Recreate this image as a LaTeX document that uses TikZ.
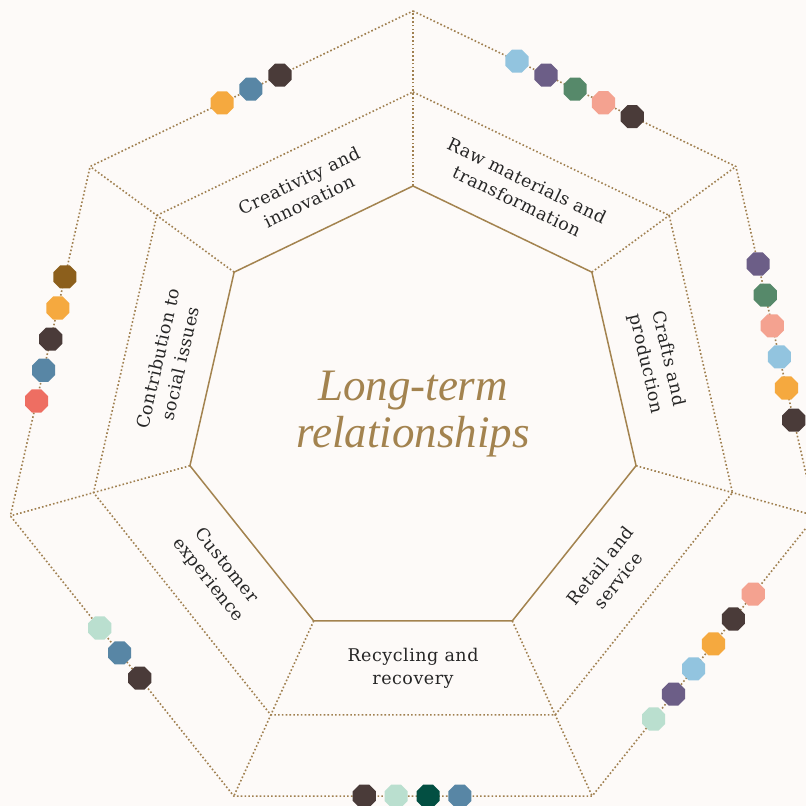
\documentclass[tikz,border=0pt]{standalone}
\usepackage{fontspec}
\usetikzlibrary{calc,shapes.geometric}
\newfontfamily\labfont[LetterSpace=3]{DejaVu Serif}
\newfontfamily\ctrfont{Liberation Serif}
\definecolor{bg}{HTML}{FDFAF8}
\definecolor{gold}{HTML}{A3834F}
\definecolor{dotc}{HTML}{A08050}
\definecolor{ink}{HTML}{262626}
\definecolor{cOr}{HTML}{F5A93F}
\definecolor{cBl}{HTML}{5886A5}
\definecolor{cDk}{HTML}{4A3B39}
\definecolor{cMi}{HTML}{BADFCF}
\definecolor{cTe}{HTML}{034F42}
\definecolor{cLb}{HTML}{92C4DF}
\definecolor{cPu}{HTML}{6C5E87}
\definecolor{cGr}{HTML}{56896A}
\definecolor{cPk}{HTML}{F4A290}
\definecolor{cBr}{HTML}{8C5F1C}
\definecolor{cRe}{HTML}{EE6E62}
\tikzset{
  dotl/.style={draw=dotc, line width=1.6pt, dash pattern=on 1.6pt off 2.2pt},
  solidl/.style={draw=gold, line width=1.5pt, line join=miter},
  dotn/.style={regular polygon, regular polygon sides=8, minimum size=25pt, inner sep=0pt, draw=none},
  lab/.style={font=\labfont\fontsize{17.5}{23}\selectfont, text=ink, align=center, inner sep=0pt},
  ctr/.style={font=\ctrfont\itshape\fontsize{45}{47}\selectfont, text=gold, align=center, inner sep=0pt}
}
\begin{document}
\begin{tikzpicture}[x=1pt,y=-1pt]
\fill[bg] (0,0) rectangle (806,806);
\useasboundingbox (0,0) rectangle (806,806);
\clip (0,0) rectangle (806,806);
\foreach \k in {0,...,6}{
  \coordinate (i\k) at ($(413,414.8)+({-90+\k*360/7}:228.8)$);
  \coordinate (m\k) at ($(413,419.7)+({-90+\k*360/7}:327.7)$);
  \coordinate (o\k) at ($(413,424)+({-90+\k*360/7}:413)$);
}
% radial dotted lines
\foreach \k in {0,...,6}{
  \draw[dotl] (i\k) -- (m\k) -- (o\k);
}
% dotted heptagons
\draw[dotl] (m0) -- (m1) -- (m2) -- (m3) -- (m4) -- (m5) -- (m6) -- cycle;
\draw[dotl] (o0) -- (o1) -- (o2) -- (o3) -- (o4) -- (o5) -- (o6) -- cycle;
% inner solid heptagon
\draw[solidl] (i0) -- (i1) -- (i2) -- (i3) -- (i4) -- (i5) -- (i6) -- cycle;

% centre title
\node[ctr] (title) at (413,414) {Long-term\\relationships};

% sector labels
\node[lab, rotate=25.71] (lcre) at (304,191) {Creativity and\\innovation};
\node[lab, rotate=-25.71] (lraw) at (522,191) {Raw materials and\\transformation};
\node[lab, rotate=-77.14] (lcra) at (657,361) {Crafts and\\production};
\node[lab, rotate=51.43] (lret) at (609,573) {Retail and\\service};
\node[lab] (lrec) at (413,668) {Recycling and\\recovery};
\node[lab, rotate=-51.43] (lcus) at (217,573) {Customer\\experience};
\node[lab, rotate=77.14] (lcon) at (169,361) {Contribution to\\social issues};

% coloured dots on the outer edges
\path (o6) -- (o0)
  node[dotn, fill=cOr, pos=0.409] (a1) {}
  node[dotn, fill=cBl, pos=0.498] (a2) {}
  node[dotn, fill=cDk, pos=0.588] (a3) {};
\path (o0) -- (o1)
  node[dotn, fill=cLb, pos=0.322] (b1) {}
  node[dotn, fill=cPu, pos=0.412] (b2) {}
  node[dotn, fill=cGr, pos=0.502] (b3) {}
  node[dotn, fill=cPk, pos=0.590] (b4) {}
  node[dotn, fill=cDk, pos=0.679] (b5) {};
\path (o1) -- (o2)
  node[dotn, fill=cPu, pos=0.279] (c1) {}
  node[dotn, fill=cGr, pos=0.368] (c2) {}
  node[dotn, fill=cPk, pos=0.456] (c3) {}
  node[dotn, fill=cLb, pos=0.545] (c4) {}
  node[dotn, fill=cOr, pos=0.634] (c5) {}
  node[dotn, fill=cDk, pos=0.726] (c6) {};
\path (o2) -- (o3)
  node[dotn, fill=cPk, pos=0.279] (e1) {}
  node[dotn, fill=cDk, pos=0.368] (e2) {}
  node[dotn, fill=cOr, pos=0.457] (e3) {}
  node[dotn, fill=cLb, pos=0.546] (e4) {}
  node[dotn, fill=cPu, pos=0.636] (e5) {}
  node[dotn, fill=cMi, pos=0.725] (e6) {};
\path (o3) -- (o4)
  node[dotn, fill=cBl, pos=0.369] (f1) {}
  node[dotn, fill=cTe, pos=0.458] (f2) {}
  node[dotn, fill=cMi, pos=0.547] (f3) {}
  node[dotn, fill=cDk, pos=0.636] (f4) {};
\path (o4) -- (o5)
  node[dotn, fill=cDk, pos=0.421] (g1) {}
  node[dotn, fill=cBl, pos=0.511] (g2) {}
  node[dotn, fill=cMi, pos=0.600] (g3) {};
\path (o5) -- (o6)
  node[dotn, fill=cRe, pos=0.329] (h1) {}
  node[dotn, fill=cBl, pos=0.417] (h2) {}
  node[dotn, fill=cDk, pos=0.506] (h3) {}
  node[dotn, fill=cOr, pos=0.595] (h4) {}
  node[dotn, fill=cBr, pos=0.684] (h5) {};
\end{tikzpicture}
\end{document}
